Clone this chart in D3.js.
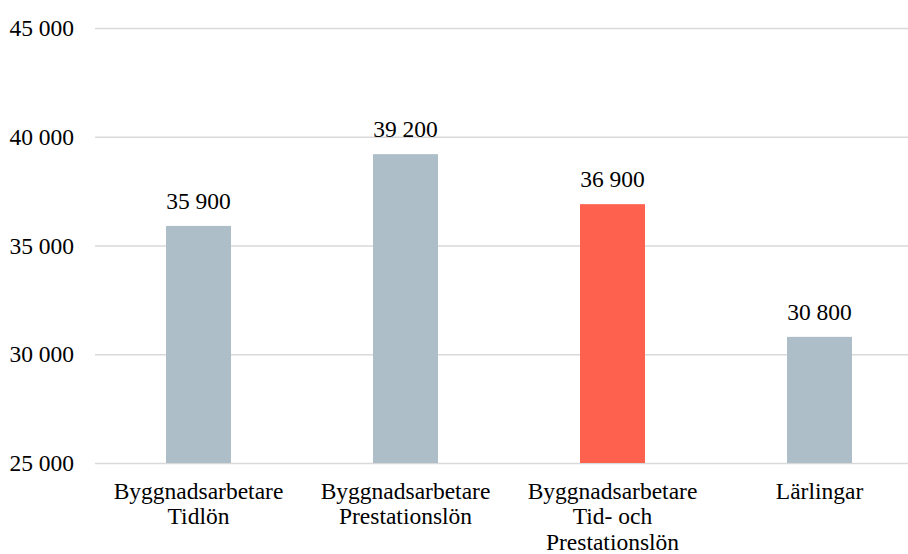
<!DOCTYPE html>
<html>
  <head>
    <meta charset="utf-8">
    <title>Lön byggnadsarbetare</title>
    <style>
      body { margin: 0; background: #fff; }
    </style>
  </head>
  <body>
    <div id="container"></div>
    <script src="https://d3js.org/d3.v7.min.js"></script>
    <script>

      // DATA
      var categories = [
        ["Byggnadsarbetare", "Tidlön"],
        ["Byggnadsarbetare", "Prestationslön"],
        ["Byggnadsarbetare", "Tid- och", "Prestationslön"],
        ["Lärlingar"]
      ];
      var values = [35900, 39200, 36900, 30800];
      var highlight = [false, false, true, false];
      var yTicks = [25000, 30000, 35000, 40000, 45000];

      // DIMENSIONS
      var W = 908, H = 554;
      var FONT = "'Liberation Serif'";
      var FS = 23.5;
      var margin = { top: 28, right: -15, bottom: 91, left: 95 },
        width = W - margin.left - margin.right,
        height = H - margin.top - margin.bottom;

      var svg = d3.select("#container")
        .append("svg")
        .attr("width", W)
        .attr("height", H)
        .style("font-family", FONT);

      var g = svg.append("g")
        .attr("transform", "translate(" + margin.left + "," + margin.top + ")");

      var fmt = function (v) { return d3.format(",")(v).replace(/,/g, " "); };

      // SCALES
      var x = d3.scaleBand()
        .domain(d3.range(categories.length))
        .range([0, width])
        .paddingInner(0.686)
        .paddingOuter(0.343);

      var y = d3.scaleLinear()
        .domain([25000, 45000])
        .range([height, 0]);

      // GRIDLINES + Y LABELS
      var yAxis = g.append("g")
        .call(d3.axisLeft(y).tickValues(yTicks).tickSize(-width).tickFormat(fmt).tickPadding(21));
      yAxis.attr("font-family", null).attr("font-size", null);
      yAxis.select(".domain").remove();
      yAxis.selectAll(".tick line").attr("stroke", "#d9d9d9").attr("stroke-width", 1.5);
      yAxis.selectAll(".tick text")
        .style("font-family", FONT)
        .style("font-size", FS + "px")
        .attr("fill", "#000");

      // BARS
      g.selectAll(".bar")
        .data(values)
        .enter()
        .append("rect")
        .attr("x", (d, i) => x(i))
        .attr("width", x.bandwidth())
        .attr("y", d => y(d))
        .attr("height", d => height - y(d))
        .attr("fill", (d, i) => highlight[i] ? "#ff614f" : "#adbec8");

      // VALUE LABELS
      g.selectAll(".val")
        .data(values)
        .enter()
        .append("text")
        .attr("x", (d, i) => x(i) + x.bandwidth() / 2)
        .attr("y", d => y(d) - 17)
        .attr("text-anchor", "middle")
        .style("font-family", FONT)
        .style("font-size", FS + "px")
        .text(d => fmt(d));

      // X LABELS
      var xl = g.selectAll(".xl")
        .data(categories)
        .enter()
        .append("text")
        .attr("text-anchor", "middle")
        .style("font-family", FONT)
        .style("font-size", FS + "px")
        .attr("transform", (d, i) => "translate(" + (x(i) + x.bandwidth() / 2) + "," + (height + 35.5) + ")");
      xl.selectAll("tspan")
        .data(d => d)
        .enter()
        .append("tspan")
        .attr("x", 0)
        .attr("y", (d, j) => j * 25.8)
        .text(d => d);

    </script>
  </body>
</html>
